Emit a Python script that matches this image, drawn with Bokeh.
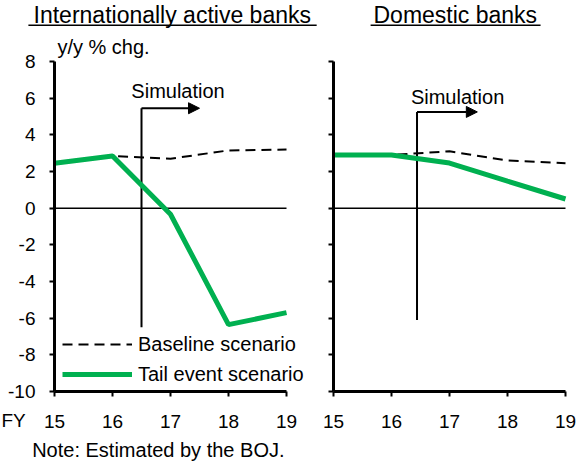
from bokeh.plotting import figure
from bokeh.layouts import row
from bokeh.models import (Label, Arrow, NormalHead, Legend, LegendItem, FixedTicker,
                          Range1d, GlobalInlineStyleSheet)
from bokeh.embed import file_html
from bokeh.resources import INLINE

# ---------------- data ----------------
years = [15, 16, 17, 18, 19]
x_tick_labels = ["15", "16", "17", "18", "19"]
y_ticks = [-10, -8, -6, -4, -2, 0, 2, 4, 6, 8]
y_tick_labels = ["-10", "-8", "-6", "-4", "-2", "0", "2", "4", "6", "8"]

intl_baseline = [2.45, 2.84, 2.70, 3.15, 3.20]
intl_tail = [2.45, 2.84, -0.33, -6.35, -5.70]
dom_baseline = [2.90, 2.90, 3.10, 2.60, 2.45]
dom_tail = [2.90, 2.90, 2.46, 1.47, 0.50]

panel_titles = ["Internationally active banks", "Domestic banks"]
series_names = ["Baseline scenario", "Tail event scenario"]

# simulation marker (start of simulation period), per panel
sim_x = [16.5, 16.44]
sim_top = [5.45, 5.25]
sim_bottom = [-6.5, -6.1]
sim_arrow_end = [17.5, 17.48]

FONT = "Liberation Sans"
GREEN = "#00B050"
Y_MIN, Y_MAX_AXIS = -10, 8
Y_LO, Y_HI = -13.818, 11.327


def make_panel(width, x_start, x_end, show_ylabels):
    p = figure(width=width, height=461, x_range=Range1d(x_start, x_end),
               y_range=Range1d(Y_LO, Y_HI), output_backend="svg",
               toolbar_location=None, min_border_left=0, min_border_right=0,
               min_border_top=0, min_border_bottom=0, outline_line_color=None,
               background_fill_color="white", border_fill_color="white")
    p.grid.visible = False
    xa = p.xaxis[0]
    xa.ticker = FixedTicker(ticks=years)
    xa.major_label_overrides = {y: s for y, s in zip(years, x_tick_labels)}
    xa.bounds = (years[0], years[-1])
    xa.fixed_location = Y_MIN
    ya = p.yaxis[0]
    ya.ticker = FixedTicker(ticks=y_ticks)
    ya.major_label_overrides = {y: s for y, s in zip(y_ticks, y_tick_labels)}
    ya.bounds = (Y_MIN, Y_MAX_AXIS)
    ya.fixed_location = years[0]
    for ax in (xa, ya):
        ax.axis_line_width = 3
        ax.axis_line_color = "black"
        ax.major_tick_line_width = 2
        ax.major_tick_line_color = "black"
        ax.major_tick_out = 5
        ax.major_tick_in = 0
        ax.minor_tick_line_color = None
        ax.major_label_text_font = FONT
        ax.major_label_text_font_size = "19px"
        ax.major_label_text_color = "black"
    xa.major_label_standoff = 18
    ya.major_label_standoff = 14
    if not show_ylabels:
        ya.major_label_text_color = None
    # zero line
    p.segment(x0=[years[0]], y0=[0], x1=[years[-1]], y1=[0],
              line_color="black", line_width=1.5)
    return p


def text(p, x, y, s, size, align):
    p.add_layout(Label(x=x, y=y, text=s, text_font=FONT, text_font_size=size,
                       text_align=align, text_baseline="alphabetic",
                       text_color="black"))


def add_sim(p, i, text_x, text_y):
    p.segment(x0=[sim_x[i]], y0=[sim_bottom[i]], x1=[sim_x[i]], y1=[sim_top[i]],
              line_color="black", line_width=2)
    p.add_layout(Arrow(x_start=sim_x[i], y_start=sim_top[i], x_end=sim_arrow_end[i],
                       y_end=sim_top[i], line_width=2, line_color="black",
                       end=NormalHead(size=11, fill_color="black", line_color="black")))
    text(p, text_x, text_y, "Simulation", "20px", "center")


def add_title(p, i, cx, x0, x1):
    text(p, cx, 10.56, panel_titles[i], "23px", "center")
    p.add_layout(Arrow(x_start=x0, y_start=9.98, x_end=x1, y_end=9.98,
                       line_width=1.5, line_color="black", end=None))


# ---------------- left panel ----------------
p1 = make_panel(320, 14.069, 19.586, True)
add_sim(p1, 0, 17.13, 6.37)
r_base1 = p1.line(years, intl_baseline, line_color="black", line_width=2, line_dash="10 6")
r_tail1 = p1.line(years, intl_tail, line_color=GREEN, line_width=5)
add_title(p1, 0, 17.03, 14.55, 19.52)
text(p1, 15.05, 8.77, "y/y % chg.", "20px", "left")
text(p1, 14.086, -11.58, "FY", "19px", "left")
text(p1, 16.79, -13.20, "Note: Estimated by the BOJ.", "20px", "center")
legend = Legend(items=[LegendItem(label=series_names[0], renderers=[r_base1]),
                       LegendItem(label=series_names[1], renderers=[r_tail1])],
                location=(62, 75), glyph_width=70, glyph_height=24, label_height=24,
                label_standoff=6, spacing=6, padding=0, margin=0,
                border_line_color=None, background_fill_alpha=0,
                label_text_font=FONT, label_text_font_size="20px",
                label_text_color="black")
p1.add_layout(legend, "center")

# ---------------- right panel ----------------
p2 = make_panel(257, 14.776, 19.207, False)
add_sim(p2, 1, 17.14, 6.09)
p2.line(years, dom_baseline, line_color="black", line_width=2, line_dash="10 6")
p2.line(years, dom_tail, line_color=GREEN, line_width=5)
add_title(p2, 1, 17.10, 15.64, 18.57)

layout = row(p1, p2, spacing=0,
             stylesheets=[GlobalInlineStyleSheet(css="html, body {margin:0 !important; padding:0; overflow:hidden;}")])

open("out.html", "w").write(file_html(layout, INLINE))
